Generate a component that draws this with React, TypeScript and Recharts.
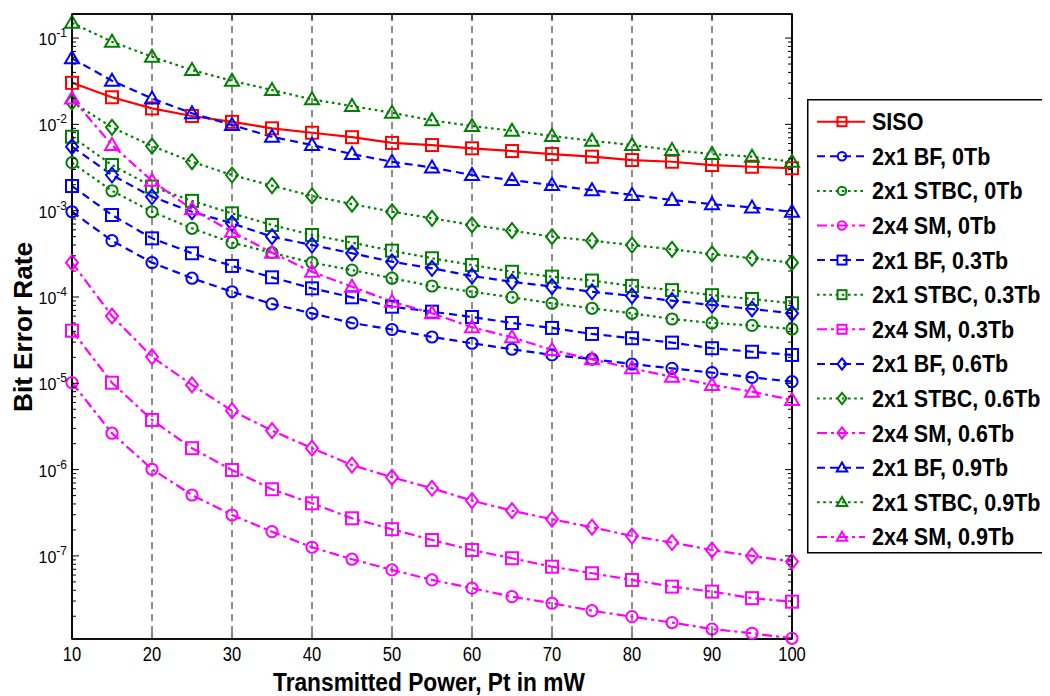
import React from 'react';
import { LineChart, Line, XAxis, YAxis, CartesianGrid, Legend, ReferenceArea } from 'recharts';

// ---------- data ----------
const powerMw = [10, 15, 20, 25, 30, 35, 40, 45, 50, 55, 60, 65, 70, 75, 80, 85, 90, 95, 100];

const sisoBer = [0.0303, 0.0206, 0.0153, 0.0125, 0.0107, 0.009, 0.008, 0.0071, 0.0061, 0.00576, 0.00528, 0.00491, 0.00453, 0.00422, 0.00386, 0.00369, 0.00338, 0.00323, 0.0031];

const bf0Ber = [9.72e-4, 4.49e-4, 2.5e-4, 1.65e-4, 1.15e-4, 8.3e-5, 6.47e-5, 5.0e-5, 4.2e-5, 3.44e-5, 2.91e-5, 2.48e-5, 2.13e-5, 1.91e-5, 1.67e-5, 1.49e-5, 1.33e-5, 1.17e-5, 1.045e-5];
const stbc0Ber = [3.6e-3, 1.7e-3, 9.72e-4, 6.25e-4, 4.26e-4, 3.26e-4, 2.5e-4, 2.05e-4, 1.65e-4, 1.34e-4, 1.15e-4, 9.9e-5, 8.45e-5, 7.4e-5, 6.47e-5, 5.56e-5, 5.0e-5, 4.68e-5, 4.26e-5];
const sm0Ber = [1.016e-5, 2.64e-6, 1.01e-6, 5.08e-7, 2.98e-7, 1.91e-7, 1.26e-7, 9.16e-8, 6.89e-8, 5.27e-8, 4.23e-8, 3.37e-8, 2.83e-8, 2.32e-8, 1.98e-8, 1.69e-8, 1.42e-8, 1.27e-8, 1.11e-8];

const bf03Ber = [1.93e-3, 8.91e-4, 4.78e-4, 3.21e-4, 2.29e-4, 1.69e-4, 1.26e-4, 9.91e-5, 7.72e-5, 6.76e-5, 5.86e-5, 5.0e-5, 4.38e-5, 3.73e-5, 3.33e-5, 2.96e-5, 2.55e-5, 2.32e-5, 2.13e-5];
const stbc03Ber = [7.19e-3, 3.38e-3, 1.9e-3, 1.3e-3, 9.31e-4, 6.83e-4, 5.23e-4, 4.26e-4, 3.44e-4, 2.81e-4, 2.35e-4, 1.96e-4, 1.72e-4, 1.55e-4, 1.34e-4, 1.2e-4, 1.05e-4, 9.48e-5, 8.45e-5];
const sm03Ber = [4.07e-5, 1.016e-5, 3.76e-6, 1.77e-6, 9.9e-7, 5.92e-7, 4.07e-7, 2.73e-7, 2.04e-7, 1.53e-7, 1.17e-7, 9.4e-8, 7.5e-8, 6.3e-8, 5.27e-8, 4.41e-8, 3.86e-8, 3.24e-8, 2.95e-8];

const bf06Ber = [5.51e-3, 2.59e-3, 1.45e-3, 9.72e-4, 7.14e-4, 4.99e-4, 4.0e-4, 3.21e-4, 2.56e-4, 2.15e-4, 1.75e-4, 1.5e-4, 1.32e-4, 1.15e-4, 1.03e-4, 9.06e-5, 8.07e-5, 7.26e-5, 6.47e-5];
const stbc06Ber = [1.815e-2, 9.24e-3, 5.61e-3, 3.69e-3, 2.59e-3, 1.95e-3, 1.48e-3, 1.19e-3, 9.72e-4, 8.16e-4, 6.83e-4, 5.86e-4, 4.99e-4, 4.49e-4, 4.0e-4, 3.56e-4, 3.15e-4, 2.81e-4, 2.5e-4];
const sm06Ber = [2.5e-4, 6.02e-5, 2.03e-5, 9.57e-6, 4.82e-6, 2.83e-6, 1.77e-6, 1.13e-6, 8.15e-7, 6.08e-7, 4.37e-7, 3.34e-7, 2.66e-7, 2.15e-7, 1.7e-7, 1.43e-7, 1.17e-7, 1.0e-7, 8.59e-8];

const bf09Ber = [5.82e-2, 3.2e-2, 2.0e-2, 1.343e-2, 9.82e-3, 7.19e-3, 5.76e-3, 4.53e-3, 3.69e-3, 3.16e-3, 2.59e-3, 2.26e-3, 1.98e-3, 1.73e-3, 1.52e-3, 1.33e-3, 1.19e-3, 1.09e-3, 9.7e-4];
const stbc09Ber = [0.15, 0.0906, 0.0607, 0.0426, 0.032, 0.025, 0.0195, 0.0163, 0.01364, 0.01114, 0.00957, 0.00844, 0.00733, 0.00646, 0.00576, 0.00504, 0.00453, 0.00422, 0.00369];
const sm09Ber = [0.02, 5.76e-3, 2.22e-3, 1.037e-3, 5.71e-4, 3.26e-4, 1.96e-4, 1.316e-4, 8.83e-5, 6.48e-5, 4.46e-5, 3.41e-5, 2.43e-5, 1.9e-5, 1.49e-5, 1.19e-5, 9.57e-6, 8.0e-6, 6.41e-6];

const xTicks = [10, 20, 30, 40, 50, 60, 70, 80, 90, 100];
const yMajorTicks = [1e-8, 1e-7, 1e-6, 1e-5, 1e-4, 1e-3, 1e-2, 1e-1];
const xDomain: [number, number] = [10, 100];
const yDomain: [number, number] = [1.09e-8, 0.19];

const xLabel = 'Transmitted Power, Pt in mW';
const yLabel = 'Bit Error Rate';

// ---------- styles ----------
const FONT = '"Liberation Sans", Arial, Helvetica, sans-serif';
const RED = '#ff0000';
const BLUE = '#0000ff';
const GREEN = '#008000';
const MAGENTA = '#ff00ff';
const DASH = '8 5';
const DOT = '2.6 3.6';
const DASHDOT = '10 4 3 4';

type Shape = 'square' | 'circle' | 'diamond' | 'triangle';
interface Series { key: string; name: string; color: string; dash?: string; marker: Shape; values: number[] }

const series: Series[] = [
  { key: 'siso', name: 'SISO', color: RED, marker: 'square', values: sisoBer },
  { key: 'bf0', name: '2x1 BF, 0Tb', color: BLUE, dash: DASH, marker: 'circle', values: bf0Ber },
  { key: 'stbc0', name: '2x1 STBC, 0Tb', color: GREEN, dash: DOT, marker: 'circle', values: stbc0Ber },
  { key: 'sm0', name: '2x4 SM, 0Tb', color: MAGENTA, dash: DASHDOT, marker: 'circle', values: sm0Ber },
  { key: 'bf03', name: '2x1 BF, 0.3Tb', color: BLUE, dash: DASH, marker: 'square', values: bf03Ber },
  { key: 'stbc03', name: '2x1 STBC, 0.3Tb', color: GREEN, dash: DOT, marker: 'square', values: stbc03Ber },
  { key: 'sm03', name: '2x4 SM, 0.3Tb', color: MAGENTA, dash: DASHDOT, marker: 'square', values: sm03Ber },
  { key: 'bf06', name: '2x1 BF, 0.6Tb', color: BLUE, dash: DASH, marker: 'diamond', values: bf06Ber },
  { key: 'stbc06', name: '2x1 STBC, 0.6Tb', color: GREEN, dash: DOT, marker: 'diamond', values: stbc06Ber },
  { key: 'sm06', name: '2x4 SM, 0.6Tb', color: MAGENTA, dash: DASHDOT, marker: 'diamond', values: sm06Ber },
  { key: 'bf09', name: '2x1 BF, 0.9Tb', color: BLUE, dash: DASH, marker: 'triangle', values: bf09Ber },
  { key: 'stbc09', name: '2x1 STBC, 0.9Tb', color: GREEN, dash: DOT, marker: 'triangle', values: stbc09Ber },
  { key: 'sm09', name: '2x4 SM, 0.9Tb', color: MAGENTA, dash: DASHDOT, marker: 'triangle', values: sm09Ber },
];

const tableData = powerMw.map((x, i) => {
  const row: Record<string, number> = { x };
  series.forEach((s) => { row[s.key] = s.values[i]; });
  return row;
});

const yAllTicks: number[] = [];
yMajorTicks.forEach((t) => {
  for (let m = 1; m <= 9; m++) {
    const v = m * t;
    if (v >= yDomain[0] && v <= yDomain[1]) yAllTicks.push(v);
  }
});

const isMajor = (v: number) => {
  const e = Math.round(Math.log10(v));
  return Math.abs(v - Math.pow(10, e)) / v < 1e-6;
};

// ---------- markers ----------
function Marker({ shape, cx, cy, color, s = 1, sw = 2 }: { shape: Shape; cx: number; cy: number; color: string; s?: number; sw?: number }) {
  if (cx == null || cy == null || isNaN(cx) || isNaN(cy)) return null;
  const common = { fill: 'none', stroke: color, strokeWidth: sw };
  if (shape === 'square') {
    const h = 6 * s;
    return <rect x={cx - h} y={cy - h} width={2 * h} height={2 * h} {...common} />;
  }
  if (shape === 'circle') return <circle cx={cx} cy={cy} r={5.6 * s} {...common} />;
  if (shape === 'diamond') {
    const w = 6 * s, h = 7.5 * s;
    return <polygon points={`${cx},${cy - h} ${cx + w},${cy} ${cx},${cy + h} ${cx - w},${cy}`} {...common} />;
  }
  const w = 7 * s;
  return <polygon points={`${cx},${cy - 7 * s} ${cx + w},${cy + 5 * s} ${cx - w},${cy + 5 * s}`} {...common} />;
}

// ---------- ticks ----------
const YTickLeft = (props: any) => {
  const { x, y, payload } = props;
  const v = payload.value;
  const major = isMajor(v);
  const e = Math.round(Math.log10(v));
  const showLabel = major && e >= -7;
  return (
    <g>
      <line x1={x} x2={x + (major ? 7 : 4)} y1={y} y2={y} stroke="#000" strokeWidth={1} />
      {showLabel && (
        <text x={x - 5} y={y + 7} textAnchor="end" fontFamily={FONT} fontSize={16} fill="#000">
          10<tspan dy={-8} fontSize={12}>{'-' + Math.abs(e)}</tspan>
        </text>
      )}
    </g>
  );
};

const YTickRight = (props: any) => {
  const { x, y, payload } = props;
  const major = isMajor(payload.value);
  return <line x1={x} x2={x - (major ? 7 : 4)} y1={y} y2={y} stroke="#000" strokeWidth={1} />;
};

const XTickBottom = (props: any) => {
  const { x, y, payload } = props;
  const label = String(payload.value);
  return (
    <g>
      <line x1={x} x2={x} y1={y} y2={y - 6} stroke="#000" strokeWidth={1} />
      <text x={x} y={y + 22} textAnchor="middle" fontFamily={FONT} fontSize={20} fill="#000"
        textLength={label.length * 9.2} lengthAdjust="spacingAndGlyphs">{label}</text>
    </g>
  );
};

const XTickTop = (props: any) => {
  const { x, y } = props;
  return <line x1={x} x2={x} y1={y} y2={y + 6} stroke="#000" strokeWidth={1} />;
};

// ---------- legend ----------
const LegendBox = () => {
  const rowH = 34.6;
  return (
    <svg width={260} height={470} style={{ display: 'block', overflow: 'visible' }}>
      <rect x={0.75} y={0.75} width={300} height={453} fill="#fff" stroke="#000" strokeWidth={1.5} />
      {series.map((s, i) => {
        const cy = 22.7 + i * rowH;
        return (
          <g key={s.key}>
            <line x1={10} x2={58} y1={cy} y2={cy} stroke={s.color} strokeWidth={2} strokeDasharray={s.dash} />
            <Marker shape={s.marker} cx={35} cy={cy} color={s.color} s={0.75} sw={2} />
            <text transform={`translate(65,${cy + 8.5}) scale(0.915,1)`} fontFamily={FONT} fontWeight="bold" fontSize={23.5} fill="#000">{s.name}</text>
          </g>
        );
      })}
    </svg>
  );
};

export default function App() {
  return (
    <div style={{ width: 1042, height: 688 }}>
      <LineChart width={1042} height={688} data={tableData} margin={{ top: 5, right: 257, bottom: 0, left: 0 }}>
        <CartesianGrid horizontal={false} stroke="#1a1a1a" strokeWidth={1} strokeDasharray="7 5" />
        <XAxis dataKey="x" type="number" domain={xDomain} ticks={xTicks} interval={0}
          height={57} tickSize={0} tickMargin={0} tickLine={false} axisLine={{ stroke: '#000', strokeWidth: 1.5 }}
          tick={XTickBottom}
          label={(p: any) => (
            <text x={421} y={683} textAnchor="middle" fontFamily={FONT} fontWeight="bold" fontSize={25}
              textLength={312} lengthAdjust="spacingAndGlyphs" fill="#000">{xLabel}</text>
          )} />
        <XAxis xAxisId="top" dataKey="x" orientation="top" type="number" domain={xDomain} ticks={xTicks} interval={0}
          height={1} tickSize={0} tickMargin={0} tickLine={false} axisLine={{ stroke: '#000', strokeWidth: 1.5 }}
          tick={XTickTop} />
        <YAxis type="number" scale="log" domain={yDomain} ticks={yAllTicks} interval={0}
          width={64} tickSize={0} tickMargin={0} tickLine={false} axisLine={{ stroke: '#000', strokeWidth: 1.5 }}
          tick={YTickLeft}
          label={(p: any) => (
            <text transform="translate(24,319) rotate(-90)" textAnchor="middle" fontFamily={FONT} fontWeight="bold"
              fontSize={26} textLength={170} lengthAdjust="spacingAndGlyphs" fill="#000">{yLabel}</text>
          )} />
        <YAxis yAxisId="right" orientation="right" type="number" scale="log" domain={yDomain} ticks={yAllTicks} interval={0}
          width={1} tickSize={0} tickMargin={0} tickLine={false} axisLine={{ stroke: '#000', strokeWidth: 1.5 }}
          tick={YTickRight} />
        <ReferenceArea x1={xDomain[0]} x2={xDomain[1]} y1={yDomain[0]} y2={yDomain[1]} fill="none" fillOpacity={0}
          stroke="#000" strokeWidth={1.5} ifOverflow="visible" />
        <Legend layout="vertical" align="center" verticalAlign="middle"
          wrapperStyle={{ position: 'absolute', left: 799, top: 91, width: 260, height: 470 }}
          content={() => <LegendBox />} />
        {/* invisible carrier series that binds the mirrored top/right box axes */}
        <Line xAxisId="top" yAxisId="right" dataKey="siso" stroke="none" dot={false} activeDot={false}
          legendType="none" isAnimationActive={false} />
        {series.map((s) => (
          <Line key={s.key} dataKey={s.key} name={s.name} type="linear" stroke={s.color} strokeWidth={2.2}
            strokeDasharray={s.dash} isAnimationActive={false}
            dot={(p: any) => <Marker key={`${s.key}-${p.index}`} shape={s.marker} cx={p.cx} cy={p.cy} color={s.color} />}
            activeDot={false} />
        ))}
      </LineChart>
    </div>
  );
}
